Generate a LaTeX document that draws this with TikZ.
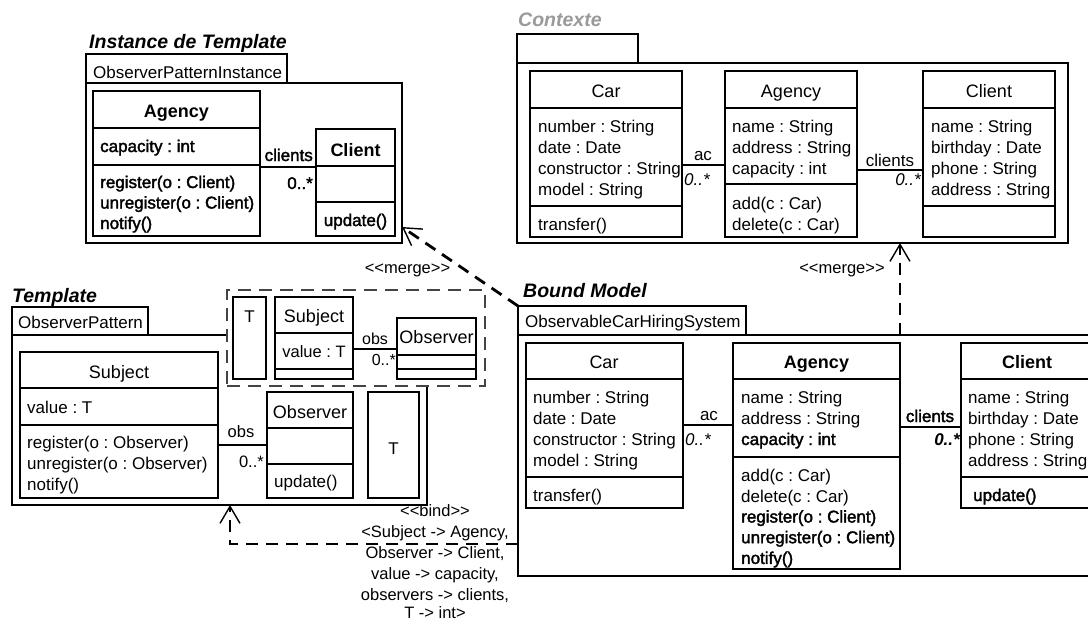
\documentclass[tikz,border=0pt]{standalone}
\usepackage{fontspec}
\setmainfont{Liberation Sans}
\newfontfamily\fbf{Liberation Sans}[FakeBold=2]
\usetikzlibrary{fit,arrows.meta}
\definecolor{ctxgrey}{HTML}{9A9A9A}
\definecolor{dashgrey}{HTML}{444444}
\newcommand\fsz[1]{\fontsize{#1}{#1}\selectfont}
\newcommand\dlt{<\kern0pt<}
\newcommand\dgt{>\kern0pt>}
\newcommand\umlrect[6][]{%
  \coordinate (#2-nw) at (#3,#4);
  \coordinate (#2-se) at (#5,#6);
  \node[cls,#1,fit=(#2-nw)(#2-se)] (#2) {};}
\newcommand\umlclass[7]{\umlrect{#1}{#2}{#3}{#4}{#5}
  \draw[ln] (#2,#6) -- (#4,#6);
  \draw[ln] (#2,#7) -- (#4,#7);}
\newcommand\lst[6]{\foreach \s [count=\i from 0] in {#6} {\node[tx,#2] (#1\i) at (#3,{#4+#5*\i}) {\s};}}
\tikzset{
  ln/.style={line width=1.4pt},
  cls/.style={draw, line width=1.4pt, fill=white, inner sep=0pt, outer sep=0pt},
  tx/.style={inner sep=0pt, anchor=base west, font=\fsz{17}},
  txc/.style={inner sep=0pt, anchor=base, font=\fsz{17}},
  txr/.style={inner sep=0pt, anchor=base east, font=\fsz{17}},
  ttl/.style={inner sep=0pt, anchor=base west, font=\fsz{19.5}\bfseries\itshape},
  cname/.style={font=\fsz{18}},
  bname/.style={font=\fsz{18}\bfseries},
  fb/.style={font=\fsz{17}\fbf},
  dep/.style={line width=2.8pt, dash pattern=on 12pt off 8pt, -{Straight Barb[length=17pt,width=20pt,line width=1.4pt]}},
  tpar/.style={draw=dashgrey, line width=2.6pt, dash pattern=on 13pt off 8pt, fill=white, inner sep=0pt},
}
\frenchspacing
\begin{document}
\frenchspacing
\begin{tikzpicture}[x=1pt,y=-1pt]
\useasboundingbox (0,0) rectangle (1088,621);
\clip (0,0) rectangle (1088,621);
\fill[white] (0,0) rectangle (1088,621);

% ================= Instance de Template =================
\node[ttl] (tInst) at (89,48) {Instance de Template};
\umlrect{iTab}{86}{54}{287}{83}
\node[tx] (iTabL) at (93,78) {ObserverPatternInstance};
\umlrect{iBody}{86}{83}{402}{243}
\umlclass{iAg}{93}{91}{260}{236}{128}{165}
\node[txc,bname] (iAgN) at (176.5,117) {Agency};
\node[tx,fb] (iAgA) at (100,152) {capacity : int};
\lst{iAgO}{fb}{100}{188}{20.5}{register(o : Client), unregister(o : Client), notify()}
\umlclass{iCl}{316}{129}{395}{236}{166}{202}
\node[txc,bname] (iClN) at (355.5,156) {Client};
\node[txc,fb] (iClO) at (355.5,226) {update()};
\coordinate (iAsY) at (0,167);
\draw[ln] (iAg.east |- iAsY) -- (iCl.west |- iAsY);
\node[txr,fb] (iAsR) at (313,161) {clients};
\node[txr,fb] (iAsM) at (313,189) {0..*};

% ================= Contexte =================
\node[ttl,text=ctxgrey] (tCtx) at (518,26) {Contexte};
\umlrect{cTab}{517}{34}{638}{63}
\umlrect{cBody}{517}{63}{1068}{243}
\umlclass{cCar}{530}{71}{682}{237}{108}{206}
\node[txc,cname] (cCarN) at (606,97) {Car};
\lst{cCarA}{}{538}{132}{21}{number : String, date : Date, constructor : String, model : String}
\node[tx] (cCarO) at (538,230) {transfer()};
\umlclass{cAg}{725}{71}{857}{237}{108}{184}
\node[txc,cname] (cAgN) at (791,97) {Agency};
\lst{cAgA}{}{732}{132}{21}{name : String, address : String, capacity : int}
\lst{cAgO}{}{732}{209.5}{21}{add(c : Car), delete(c : Car)}
\umlclass{cCl}{923}{71}{1055}{237}{108}{206}
\node[txc,cname] (cClN) at (989,97) {Client};
\lst{cClA}{}{931}{132}{21}{name : String, birthday : Date, phone : String, address : String}
\coordinate (cAs1) at (0,165);
\draw[ln] (cCar.east |- cAs1) -- (cAg.west |- cAs1);
\node[txc] (cAs1R) at (703,160) {ac};
\node[tx,font=\fsz{17}\itshape] (cAs1M) at (684,185) {0..*};
\coordinate (cAs2) at (0,170);
\draw[ln] (cAg.east |- cAs2) -- (cCl.west |- cAs2);
\node[txc] (cAs2R) at (890,166) {clients};
\node[txr,font=\fsz{17}\itshape] (cAs2M) at (921,185) {0..*};

% ================= Template =================
\node[ttl] (tTpl) at (12,302) {Template};
\umlrect{tTab}{12}{307}{148}{335}
\node[tx] (tTabL) at (18,328) {ObserverPattern};
\umlrect{tBody}{12}{335}{427}{505}
\umlclass{tSub}{20}{352}{218}{498}{388}{425}
\node[txc,cname] (tSubN) at (119,378) {Subject};
\node[tx] (tSubA) at (27,413) {value : T};
\lst{tSubO}{}{27}{448}{21}{register(o : Observer), unregister(o : Observer), notify()}
\umlclass{tObs}{267}{392}{353}{498}{428}{464}
\node[txc,cname] (tObsN) at (310,418) {Observer};
\node[tx] (tObsO) at (274,487) {update()};
\umlrect{tT}{368}{392}{419}{498}
\node[txc] (tTN) at (393.5,454) {T};
\coordinate (tAs) at (0,445);
\draw[ln] (tSub.east |- tAs) -- (tObs.west |- tAs);
\node[txc,font=\fsz{16.5}] (tAsR) at (241,437) {obs};
\node[txr,font=\fsz{16.5}] (tAsM) at (264,467) {0..*};

% template parameter box
\coordinate (tp-nw) at (227,290);
\coordinate (tp-se) at (485,386);
\node[tpar, fit=(tp-nw)(tp-se)] (tPar) {};
\umlrect{tpT}{233}{297}{266}{379}
\node[txc] (tpTN) at (249.5,322) {T};
\umlclass{tpSub}{275}{297}{353}{379}{333}{369}
\node[txc,cname] (tpSubN) at (314,322) {Subject};
\node[txc,font=\fsz{16.5}] (tpSubA) at (314,357) {value : T};
\umlclass{tpObs}{397}{318}{476}{379}{355}{369}
\node[txc,cname] (tpObsN) at (436.5,343) {Observer};
\coordinate (tpAs) at (0,349);
\draw[ln] (tpSub.east |- tpAs) -- (tpObs.west |- tpAs);
\node[txc,font=\fsz{16}] (tpAsR) at (375,344) {obs};
\node[txr,font=\fsz{16}] (tpAsM) at (396,365) {0..*};

% ================= Bound Model =================
\node[ttl] (tBnd) at (523,297) {Bound Model};
\umlrect{bTab}{518}{306}{746}{335}
\node[tx] (bTabL) at (525,327) {ObservableCarHiringSystem};
\umlrect{bBody}{518}{335}{1100}{576}
\umlclass{bCar}{526}{343}{683}{508}{379}{477}
\node[txc,cname] (bCarN) at (604,368) {Car};
\lst{bCarA}{}{533}{403}{21}{number : String, date : Date, constructor : String, model : String}
\node[tx] (bCarO) at (533,501) {transfer()};
\umlclass{bAg}{733}{343}{900}{569}{379}{457}
\node[txc,bname] (bAgN) at (816.5,368) {Agency};
\lst{bAgA}{}{741}{403}{21}{name : String, address : String}
\node[tx,fb] (bAgA2) at (741,445) {capacity : int};
\lst{bAgO}{}{741}{481}{21}{add(c : Car), delete(c : Car)}
\lst{bAgP}{fb}{741}{522.5}{20.7}{register(o : Client), unregister(o : Client), notify()}
\umlclass{bCl}{961}{343}{1100}{508}{379}{477}
\node[txc,bname] (bClN) at (1027,368) {Client};
\lst{bClA}{}{968}{403}{21}{name : String, birthday : Date, phone : String, address : String}
\node[tx,fb] (bClO) at (973,501) {update()};
\coordinate (bAs1) at (0,425);
\draw[ln] (bCar.east |- bAs1) -- (bAg.west |- bAs1);
\node[txc] (bAs1R) at (709,420) {ac};
\node[tx,font=\fsz{17}\itshape] (bAs1M) at (685,445) {0..*};
\coordinate (bAs2) at (0,427);
\draw[ln] (bAg.east |- bAs2) -- (bCl.west |- bAs2);
\node[txc,fb] (bAs2R) at (930,422) {clients};
\node[txr,font=\fsz{17}\bfseries\itshape] (bAs2M) at (960,445) {0..*};

% ================= dependencies =================
\coordinate (m1) at (402,227);
\draw[dep] (bTab.north west) -- (iBody.east |- m1);
\node[txc,font=\fsz{16.5}] (m1L) at (407.5,273) {\dlt merge\dgt};
\coordinate (m2) at (900,0);
\draw[dep] (bBody.north -| m2) -- (cBody.south -| m2);
\node[txc,font=\fsz{16.5}] (m2L) at (842,273) {\dlt merge\dgt};
\coordinate (bc) at (230,544);
\draw[dep] (bBody.west |- bc) -- (bc) -- (tBody.south -| bc);
\node[txc,font=\fsz{16.5}] (bd0) at (435,516) {\dlt bind\dgt};
\node[txc,font=\fsz{16.5}] (bd1) at (435,537) {<Subject -> Agency,};
\node[txc,font=\fsz{16.5}] (bd2) at (435,558) {Observer -> Client,};
\node[txc,font=\fsz{16.5}] (bd3) at (435,579) {value -> capacity,};
\node[txc,font=\fsz{16.5}] (bd4) at (435,600) {observers -> clients,};
\node[txc,font=\fsz{16.5}] (bd5) at (435,618) {T -> int>};
\end{tikzpicture}
\end{document}
